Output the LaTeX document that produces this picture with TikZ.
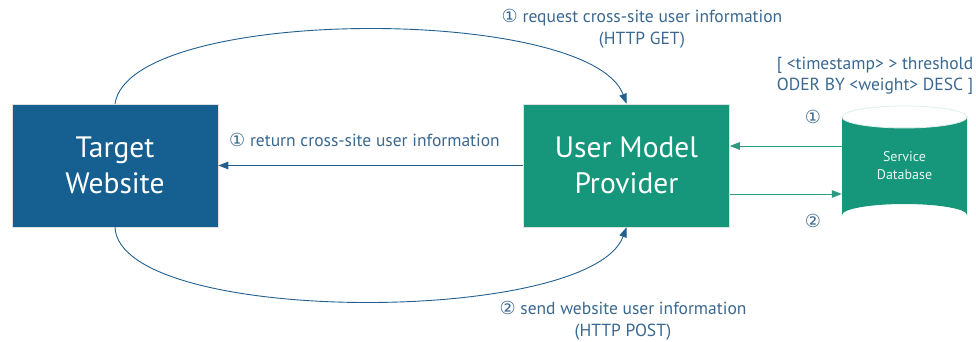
\documentclass[tikz,border=0pt]{standalone}
\usepackage{fontspec}
\setmainfont{PT Sans}
\newfontfamily\symf{DejaVu Sans}
\usetikzlibrary{arrows.meta}
\definecolor{boxblue}{HTML}{155F91}
\definecolor{boxgreen}{HTML}{16967A}
\definecolor{labblue}{HTML}{3A6890}
\definecolor{arcblue}{HTML}{22608F}
\definecolor{dbgreen}{HTML}{2A9A80}
\newcommand{\cnum}[1]{{\symf\fontsize{18pt}{18pt}\selectfont #1}}
\tikzset{
  bigbox/.style={minimum width=206pt, minimum height=123pt, inner sep=0pt, text=white,
    align=center, font=\fontsize{29.5pt}{36pt}\selectfont, draw=black!12, line width=0.6pt},
  lab/.style={text=labblue, font=\fontsize{17.5pt}{21.5pt}\selectfont, align=center, inner sep=0pt},
  tip/.style={-{Triangle[length=10pt,width=7.5pt]}},
  arc/.style={draw=arcblue, line width=0.9pt, tip},
  dbarrow/.style={draw=dbgreen, line width=1pt, tip},
}
\begin{document}
\begin{tikzpicture}[x=1pt,y=-1pt]
\useasboundingbox (0,0) rectangle (976,342);
% boxes
\node[bigbox, fill=boxblue] (tw) at (115,165.5) {Target\\Website};
\node[bigbox, fill=boxgreen] (pm) at (626.5,165.5) {User Model\\Provider};
% database
\fill[boxgreen] (842,117) -- (842,215) arc[start angle=180, end angle=360, x radius=62.5, y radius=11]
  -- (967,117) arc[start angle=0, end angle=180, x radius=62.5, y radius=11] -- cycle;
\draw[white!85!boxgreen, line width=0.8pt] (904.5,117) ellipse [x radius=62.5, y radius=11];
\node[minimum width=125pt, minimum height=120pt, inner sep=0pt] (db) at (904.5,166) {};
\node[text=white!90!boxgreen, align=center, font=\fontsize{14pt}{18pt}\selectfont] (dbl) at (904.5,166) {Service\\Database};
% arcs
\draw[arc] (tw.north) .. controls (130,5) and (590,5) .. (pm.north);
\draw[arc] (tw.south) .. controls (120,326) and (590,326) .. (pm.south);
% straight arrow
\draw[arc] (pm.west) -- (tw.east);
% db arrows
\draw[dbarrow] ([yshift=20pt]db.west) -- ([yshift=20pt]db.west -| pm.east);
\draw[dbarrow] ([yshift=-28pt]db.west -| pm.east) -- ([yshift=-28pt]db.west);
% labels
\node[lab] (l1) at (642,29) {\cnum{①} request cross-site user information\\(HTTP GET)};
\node[lab] (l2) at (623,321) {\cnum{②} send website user information\\(HTTP POST)};
\node[lab, anchor=west] (l3) at (229,140) {\cnum{①} return cross-site user information};
\node[lab] (l4) at (875,76) {[ <timestamp> > threshold\\ODER BY <weight> DESC ]};
\node[lab] (n1) at (813,117) {\cnum{①}};
\node[lab] (n2) at (813,221) {\cnum{②}};
\end{tikzpicture}
\end{document}
